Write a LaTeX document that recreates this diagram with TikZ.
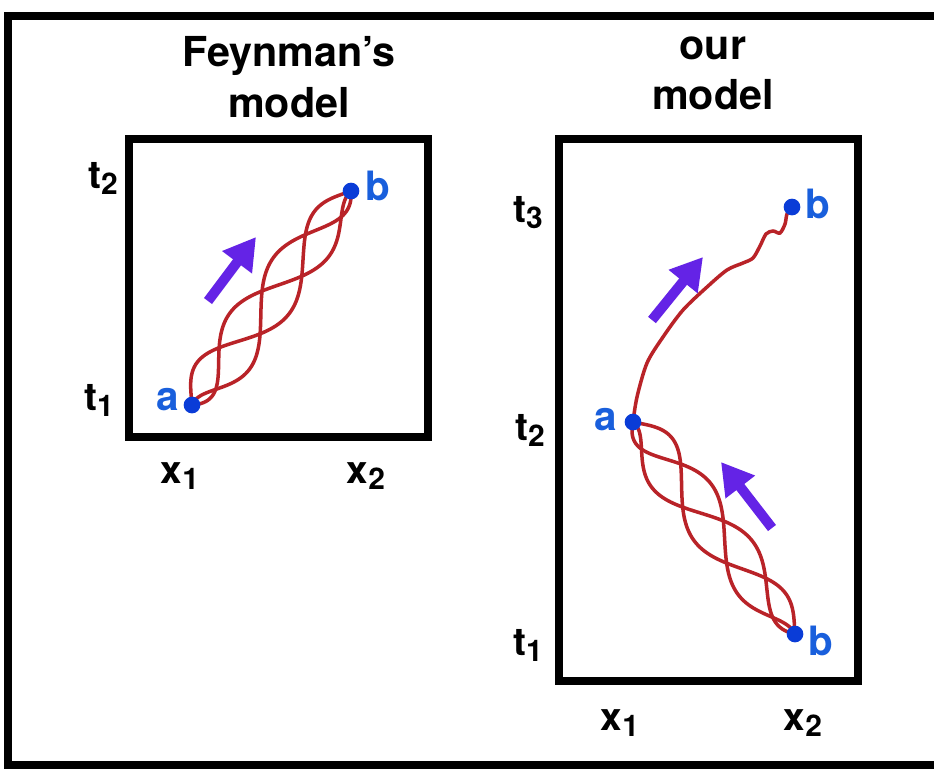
\documentclass[tikz,border=0pt]{standalone}
\usepackage{fontspec}
\setmainfont{TeX Gyre Heros}
\usetikzlibrary{arrows.meta,backgrounds}

\definecolor{dotblue}{RGB}{10,60,215}
\definecolor{lblblue}{RGB}{25,95,220}
\definecolor{walkred}{RGB}{185,35,40}
\definecolor{pushviolet}{RGB}{100,35,230}

\newcommand{\idx}[2]{#1\raisebox{-0.32ex}{\fontsize{17}{17}\selectfont #2}}

\begin{document}
\begin{tikzpicture}[x=0.02cm,y=-0.02cm,
 frame/.style={line width=4.2pt,black},
 title/.style={font=\bfseries\fontsize{23.5}{29}\selectfont,align=center,anchor=north,inner sep=0pt},
 axis/.style={font=\bfseries\fontsize{22}{24}\selectfont,anchor=base,inner sep=0pt},
 pt/.style={circle,fill=dotblue,inner sep=0pt,minimum size=9.5pt},
 ptlabel/.style={font=\bfseries\fontsize{23}{24}\selectfont,text=lblblue,anchor=base,inner sep=0pt},
 walk/.style={walkred,line width=2pt,line cap=round},
 push/.style={pushviolet,line width=5.7pt,-{Triangle[length=18pt,width=20pt]}},
 declare function={rope(\q,\p)=(27-7*\q)*(1-((2*\q-1)*(2*\q-1))^3)*sin(450*\q+\p);}]
\useasboundingbox (0,0) rectangle (934,769);
\begin{scope}[on background layer]
\fill[white] (0,0) rectangle (934,769);
\end{scope}
\draw[frame] (8,16) rectangle (960,765);

% titles
\node[title] (feyn) at (289,36) {Feynman's\\model};
\node[title] (ours) at (713,36) {our\\model};

% left panel
\draw[frame] (129,139) rectangle (428,437);
\node[pt] (a1) at (192,405) {};
\node[pt] (b1) at (351,191) {};
\node[ptlabel] (a1l) at (168,410) {a};
\node[ptlabel] (b1l) at (378,200) {b};
\node[axis] (t2l) at (103,188) {\idx{t}{2}};
\node[axis] (t1l) at (99,410) {\idx{t}{1}};
\node[axis] (x1l) at (180,483) {\idx{x}{1}};
\node[axis] (x2l) at (366,483) {\idx{x}{2}};
\begin{scope}[on background layer]
\foreach \ph in {45,165,285}
  \draw[walk] plot[domain=0:1,samples=100,smooth,variable=\q]
   ({192+159*\q-0.803*rope(\q,\ph)},{405-214*\q-0.596*rope(\q,\ph)});
\end{scope}
\coordinate (p1s) at (208,301);
\coordinate (p1e) at (256,237);
\draw[push] (p1s) -- (p1e);

% right panel
\draw[frame] (559,139) rectangle (858,681);
\node[pt] (a2) at (633,422) {};
\node[pt] (b3) at (792,207) {};
\node[pt] (b2) at (795,634) {};
\node[ptlabel] (a2l) at (606,430) {a};
\node[ptlabel] (b3l) at (818,218) {b};
\node[ptlabel] (b2l) at (821,655) {b};
\node[axis] (t3r) at (528,222) {\idx{t}{3}};
\node[axis] (t2r) at (530,440) {\idx{t}{2}};
\node[axis] (t1r) at (528,655) {\idx{t}{1}};
\node[axis] (x1r) at (620,730) {\idx{x}{1}};
\node[axis] (x2r) at (803,730) {\idx{x}{2}};
\begin{scope}[on background layer]
\draw[walk] plot[smooth] coordinates {(a2.center) (637,397) (647,363) (663,337)
  (683,310) (707,287) (727,270) (743,263) (753,258) (760,246) (766,234)
  (773,231) (780,233) (785,224) (787,214) (b3.center)};
\foreach \ph in {45,165,285}
  \draw[walk] plot[domain=0:1,samples=100,smooth,variable=\q]
   ({633+162*\q+0.795*rope(\q,\ph)},{422+212*\q-0.607*rope(\q,\ph)});
\end{scope}
\coordinate (p2s) at (652,320);
\coordinate (p2e) at (703,257);
\draw[push] (p2s) -- (p2e);
\coordinate (p3s) at (772,528);
\coordinate (p3e) at (721,462);
\draw[push] (p3s) -- (p3e);
\end{tikzpicture}
\end{document}
